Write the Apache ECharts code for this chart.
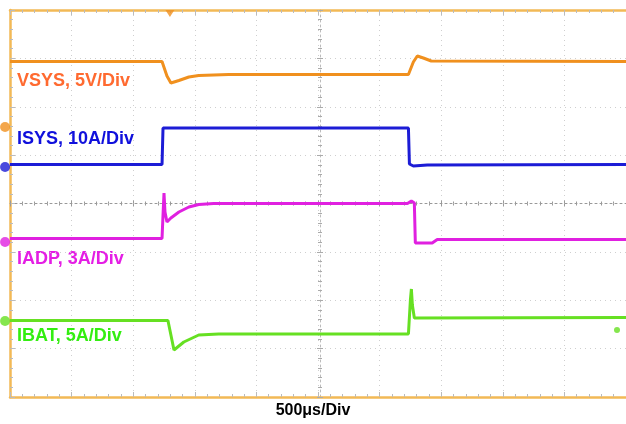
<!DOCTYPE html>
<html><head><meta charset="utf-8">
<script src="https://cdn.jsdelivr.net/npm/echarts@6/dist/echarts.min.js"></script>
<style>html,body{margin:0;padding:0;background:#fff}#c{width:626px;height:424px}</style>
</head><body><div id="c"></div>
<script>
// time in µs (500 µs/div, 10 div), vertical position in screen divisions (8 div)
var vsysT = [0,1234,1274,1306,1371,1452,1532,1774,3234,3274,3306,3355,3419,5000];
var vsysV = [6.935,6.935,6.636,6.491,6.543,6.615,6.646,6.667,6.667,6.925,7.049,7.008,6.946,6.935];
var isysT = [0,1234,1242,3234,3242,3274,3387,5000];
var isysV = [4.806,4.806,5.561,5.561,4.817,4.775,4.796,4.806];
var iadpT = [0,1234,1242,1250,1258,1274,1306,1371,1452,1532,1653,3226,3258,3282,3290,3427,3468,5000];
var iadpV = [3.277,3.277,3.762,4.217,3.824,3.618,3.700,3.824,3.928,3.979,4.0,4.0,4.052,4.010,3.183,3.183,3.256,3.256];
var ibatT = [0,1282,1331,1411,1532,1694,3234,3250,3258,3266,3282,5000];
var ibatV = [1.582,1.582,0.972,1.137,1.282,1.302,1.302,2.005,2.233,1.902,1.633,1.643];
var groundLevels = [5.581,4.755,3.204,1.571];
var labels = ["VSYS, 5V/Div","ISYS, 10A/Div","IADP, 3A/Div","IBAT, 5A/Div"];
var timeLabel = "500μs/Div";
var triggerT = 1298;

function pairs(t,v){return t.map(function(x,i){return [x,v[i]];});}
var lineCols = ['#f0901e','#1c1cd6','#e020e0','#66e022'];
var textCols = ['#ff6a30','#1010dc','#e41ee4','#33ee11'];
var frame = '#f2b956';
var chart = echarts.init(document.getElementById('c'), null, {renderer:'canvas'});
function xa(extra){return Object.assign({type:'value',min:0,max:5000,interval:500,axisLabel:{show:false},splitLine:{show:false},
  minorTick:{show:true,splitNumber:5,length:3,lineStyle:{color:'#bbb'}}},extra);}
function ya(extra){return Object.assign({type:'value',min:0,max:8,interval:1,axisLabel:{show:false},splitLine:{show:false},
  minorTick:{show:true,splitNumber:5,length:3,lineStyle:{color:'#bbb'}}},extra);}
var series = [];
[[vsysT,vsysV],[isysT,isysV],[iadpT,iadpV],[ibatT,ibatV]].forEach(function(d,i){
  series.push({type:'line',data:pairs(d[0],d[1]),symbol:'none',lineStyle:{color:lineCols[i],width:3},z:5,animation:false});
});
series.push({type:'scatter',clip:false,symbolSize:10,animation:false,z:6,
  data:groundLevels.map(function(g,i){return {value:[-40,g],itemStyle:{color:lineCols[i]}};})});
series.push({type:'scatter',clip:false,symbolSize:6,animation:false,z:6,
  data:[{value:[4927,1.385],itemStyle:{color:lineCols[3]}}]});
series.push({type:'scatter',clip:false,symbol:'triangle',symbolRotate:180,symbolSize:[9,7],animation:false,z:6,
  data:[{value:[triggerT,7.93],itemStyle:{color:lineCols[0]}}]});
var gText = labels.map(function(s,i){
  var ys=[82,140,260,337];
  return {type:'text',left:17,top:ys[i]-10,style:{text:s,fill:textCols[i],font:'bold 18px "Liberation Sans", Arial, sans-serif'}};
});
gText.push({type:'text',left:'center',top:403,style:{text:timeLabel,fill:'#000',font:'bold 16px "Liberation Sans", Arial, sans-serif'}});
chart.setOption({
  animation:false,
  grid:{left:10,top:10,right:-4,bottom:27},
  xAxis:[
    xa({position:'bottom',axisLine:{onZero:false,lineStyle:{color:frame,width:2.5}},axisTick:{inside:true,length:5,lineStyle:{color:'#bbb'}},
       splitLine:{show:true,lineStyle:{type:[1,4],color:'#cfcfcf',width:1}}}),
    xa({position:'top',axisLine:{onZero:false,lineStyle:{color:frame,width:2.5}},axisTick:{inside:true,length:5,lineStyle:{color:'#bbb'}}}),
    xa({position:'bottom',offset:-193.5,axisLine:{onZero:false,lineStyle:{color:'#999',type:[2,3],width:1}},axisTick:{inside:true,length:3,lineStyle:{color:'#999'}},minorTick:{show:true,splitNumber:5,length:2,lineStyle:{color:'#999'}}}),
    xa({position:'bottom',offset:-193.5,axisLine:{onZero:false,show:false},axisTick:{inside:false,length:3,lineStyle:{color:'#999'}},minorTick:{show:true,splitNumber:5,length:2,lineStyle:{color:'#999'}}})
  ],
  yAxis:[
    ya({position:'left',axisLine:{onZero:false,lineStyle:{color:frame,width:2.5}},axisTick:{inside:true,length:5,lineStyle:{color:'#bbb'}},
       splitLine:{show:true,lineStyle:{type:[1,4],color:'#cfcfcf',width:1}}}),
    ya({position:'left',offset:-310,axisLine:{onZero:false,lineStyle:{color:'#bbb',type:[2,3],width:1}},axisTick:{inside:true,length:3,lineStyle:{color:'#aaa'}},minorTick:{show:true,splitNumber:5,length:2,lineStyle:{color:'#aaa'}}}),
    ya({position:'left',offset:-310,axisLine:{onZero:false,show:false},axisTick:{inside:false,length:3,lineStyle:{color:'#aaa'}},minorTick:{show:true,splitNumber:5,length:2,lineStyle:{color:'#aaa'}}})
  ],
  series:series,
  graphic:gText
});
</script></body></html>
